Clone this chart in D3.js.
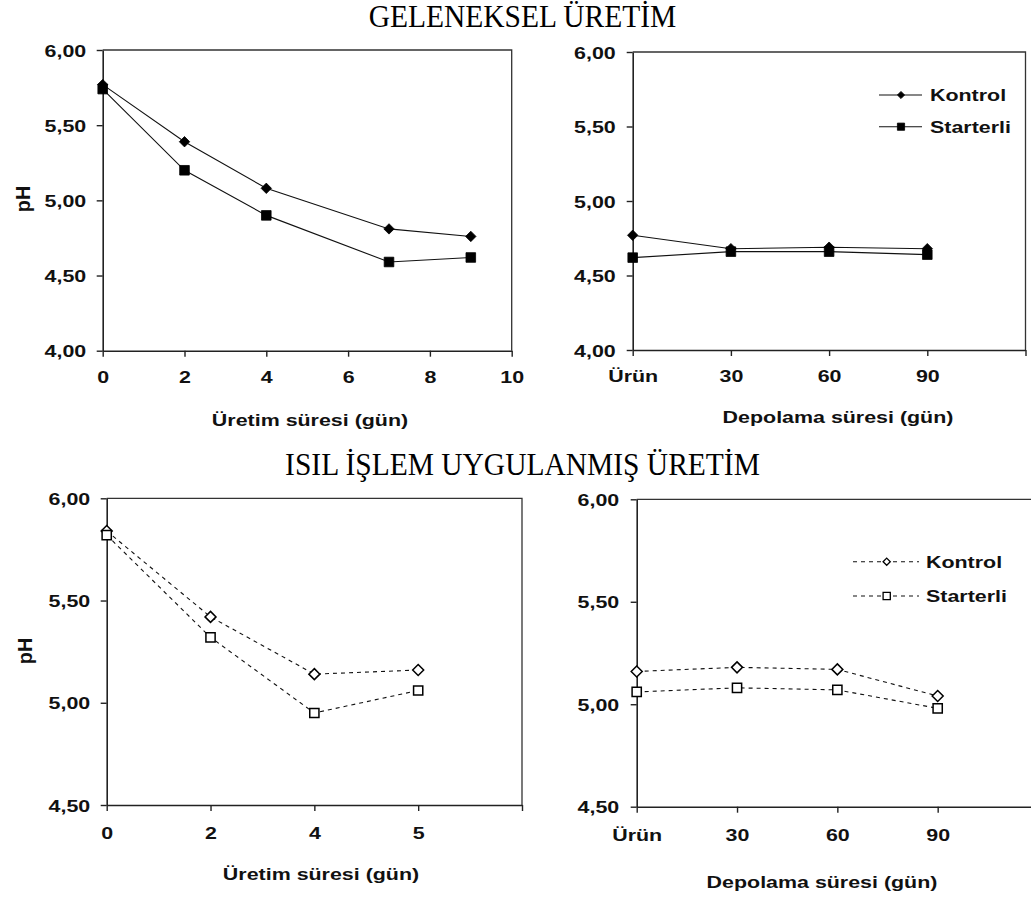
<!DOCTYPE html>
<html>
<head>
<meta charset="utf-8">
<script src="https://cdn.jsdelivr.net/npm/d3@7"></script>
<style>
  body { margin: 0; background: #fff; }
  svg { display: block; }
</style>
</head>
<body>
<svg id="chart" width="1031" height="900"></svg>
<script>
// --- data ---
var uretimGun = [0, 2, 4, 7, 9];
var uretimTicks = [0, 2, 4, 6, 8, 10];
var gelUretimKontrol = [5.77, 5.39, 5.08, 4.81, 4.76];
var gelUretimStarterli = [5.74, 5.20, 4.90, 4.59, 4.62];

var depolamaEtiket = ["Ürün", "30", "60", "90"];
var gelDepolamaKontrol = [4.77, 4.68, 4.69, 4.68];
var gelDepolamaStarterli = [4.62, 4.66, 4.66, 4.64];

var isilUretimEtiket = ["0", "2", "4", "5"];
var isilUretimKontrol = [5.84, 5.42, 5.14, 5.16];
var isilUretimStarterli = [5.82, 5.32, 4.95, 5.06];

var isilDepolamaKontrol = [5.16, 5.18, 5.17, 5.04];
var isilDepolamaStarterli = [5.06, 5.08, 5.07, 4.98];

var yTicksUst = [4, 4.5, 5, 5.5, 6];
var yTicksAlt = [4.5, 5, 5.5, 6];
var seriAdlari = ["Kontrol", "Starterli"];

var SX = 1.26;      // text in the source is stretched sideways
var FS = 17;
var svg = d3.select("#chart");
var fmt = function(v) { return d3.format(".2f")(v).replace(".", ","); };

function diamond(r) { return "M0," + (-r) + "L" + r + ",0L0," + r + "L" + (-r) + ",0Z"; }
function square(r) { return "M" + (-r) + "," + (-r) + "h" + (2*r) + "v" + (2*r) + "h" + (-2*r) + "Z"; }

function boldText(g, txt, x, y, anchor) {
  return g.append("text")
    .attr("transform", "translate(" + x + "," + y + ") scale(" + SX + ",1)")
    .attr("font-family", "Liberation Sans, Arial, sans-serif")
    .attr("font-weight", "bold")
    .attr("font-size", FS)
    .attr("fill", "#111")
    .attr("text-anchor", anchor)
    .text(txt);
}

function drawPanel(p) {
  var g = svg.append("g");
  var x = d3.scaleLinear().domain(p.xDomain).range([p.left, p.right]);
  var y = d3.scaleLinear().domain(p.yDomain).range([p.bottom, p.top]);

  // frame (top + right)
  g.append("path")
    .attr("d", "M" + p.left + "," + p.top + "H" + p.right + "V" + p.bottom)
    .attr("fill", "none").attr("stroke", "#333").attr("stroke-width", 1.3);

  var ax = g.append("g").attr("transform", "translate(" + p.left + ",0)")
    .call(d3.axisLeft(y).tickValues(p.yTicks).tickSize(6).tickSizeOuter(0).tickFormat(fmt));
  var bx = g.append("g").attr("transform", "translate(0," + p.bottom + ")")
    .call(d3.axisBottom(x).tickValues(p.xTicks).tickSize(6).tickSizeOuter(0)
      .tickFormat(function(d, i) { return p.xLabels ? (p.xLabels[i] || "") : d; }));

  [ax, bx].forEach(function(a) {
    a.select(".domain").attr("stroke", "#222").attr("stroke-width", 1.6);
    a.selectAll(".tick line").attr("stroke", "#222").attr("stroke-width", 1.4);
    a.selectAll(".tick text")
      .attr("font-family", "Liberation Sans, Arial, sans-serif")
      .attr("font-weight", "bold").attr("font-size", FS).attr("fill", "#111");
  });
  ax.selectAll(".tick text").attr("x", null).attr("dy", "0.36em")
    .attr("transform", "translate(" + (-p.yLabGap) + ",0) scale(" + SX + ",1)");
  bx.selectAll(".tick text").attr("y", null).attr("dy", "0.71em")
    .attr("transform", "translate(0," + p.xLabGap + ") scale(" + SX + ",1)");

  // series
  var line = d3.line().x(function(d, i) { return x(p.xs[i]); }).y(function(d) { return y(d); });
  var shapes = [diamond, square];
  var sizes = p.dashed ? [5.5, 4.6] : [5.2, 4.8];
  p.series.forEach(function(vals, si) {
    g.append("path").datum(vals)
      .attr("d", line)
      .attr("fill", "none").attr("stroke", "#111").attr("stroke-width", 1.1)
      .attr("stroke-dasharray", p.dashed ? "4,4" : null);
    g.selectAll(".m" + si).data(vals).enter().append("path")
      .attr("transform", function(d, i) { return "translate(" + x(p.xs[i]) + "," + y(d) + ")"; })
      .attr("d", shapes[si](sizes[si]))
      .attr("fill", p.dashed ? "#fff" : "#000")
      .attr("stroke", "#000").attr("stroke-width", p.dashed ? 1.5 : 0.8);
  });

  if (p.yTitle) {
    g.append("text")
      .attr("transform", "translate(" + p.yTitle[0] + "," + p.yTitle[1] + ") rotate(-90) scale(1.1,1.15)")
      .attr("font-family", "Liberation Sans, Arial, sans-serif")
      .attr("font-weight", "bold").attr("font-size", 18).attr("fill", "#111")
      .attr("text-anchor", "middle").attr("dy", "0.35em")
      .text("pH");
  }
  boldText(g, p.xTitle, p.xTitlePos[0], p.xTitlePos[1], "middle");

  if (p.legend) {
    var L = p.legend;
    seriAdlari.forEach(function(name, si) {
      var ly = L.y[si];
      g.append("line")
        .attr("x1", L.x1).attr("x2", L.x2).attr("y1", ly).attr("y2", ly)
        .attr("stroke", "#111").attr("stroke-width", 1.1)
        .attr("stroke-dasharray", p.dashed ? "4,4" : null);
      g.append("path")
        .attr("transform", "translate(" + L.xm + "," + ly + ")")
        .attr("d", shapes[si](3.6))
        .attr("fill", p.dashed ? "#fff" : "#000")
        .attr("stroke", "#000").attr("stroke-width", p.dashed ? 1.3 : 0.8);
      boldText(g, name, L.xt, ly, "start").attr("dy", "0.36em");
    });
  }
}

// section titles
function title(txt, yb) {
  svg.append("text")
    .attr("transform", "translate(522.5," + yb + ") scale(1,1.05)")
    .attr("font-family", "Liberation Serif, Times New Roman, serif")
    .attr("font-size", 29.5).attr("fill", "#000")
    .attr("text-anchor", "middle")
    .text(txt);
}
title("GELENEKSEL ÜRETİM", 27);
title("ISIL İŞLEM UYGULANMIŞ ÜRETİM", 475);

drawPanel({
  left: 102.7, right: 511.7, top: 50, bottom: 350.7,
  xDomain: [0, 10], xTicks: uretimTicks, xs: uretimGun,
  yDomain: [4, 6], yTicks: yTicksUst, yLabGap: 16.5, xLabGap: 20,
  series: [gelUretimKontrol, gelUretimStarterli],
  yTitle: [23, 199], xTitle: "Üretim süresi (gün)", xTitlePos: [310, 426]
});

drawPanel({
  left: 632.7, right: 1025.5, top: 52, bottom: 350,
  xDomain: [0, 4], xTicks: [0, 1, 2, 3, 4], xLabels: depolamaEtiket, xs: [0, 1, 2, 3],
  yDomain: [4, 6], yTicks: yTicksUst, yLabGap: 17, xLabGap: 20,
  series: [gelDepolamaKontrol, gelDepolamaStarterli],
  xTitle: "Depolama süresi (gün)", xTitlePos: [838, 423],
  legend: { x1: 879, x2: 922, xm: 901, xt: 930, y: [95, 126.7] }
});

drawPanel({
  left: 106.7, right: 522, top: 498.3, bottom: 805,
  xDomain: [0, 4], xTicks: [0, 1, 2, 3, 4], xLabels: isilUretimEtiket, xs: [0, 1, 2, 3],
  yDomain: [4.5, 6], yTicks: yTicksAlt, yLabGap: 16.5, xLabGap: 22,
  series: [isilUretimKontrol, isilUretimStarterli], dashed: true,
  yTitle: [25, 651], xTitle: "Üretim süresi (gün)", xTitlePos: [321, 880]
});

drawPanel({
  left: 636.7, right: 1038, top: 499.3, bottom: 806.7,
  xDomain: [0, 4], xTicks: [0, 1, 2, 3, 4], xLabels: depolamaEtiket, xs: [0, 1, 2, 3],
  yDomain: [4.5, 6], yTicks: yTicksAlt, yLabGap: 17.5, xLabGap: 22,
  series: [isilDepolamaKontrol, isilDepolamaStarterli], dashed: true,
  xTitle: "Depolama süresi (gün)", xTitlePos: [822, 888],
  legend: { x1: 853, x2: 919, xm: 886.7, xt: 926, y: [561.7, 596] }
});
</script>
</body>
</html>
